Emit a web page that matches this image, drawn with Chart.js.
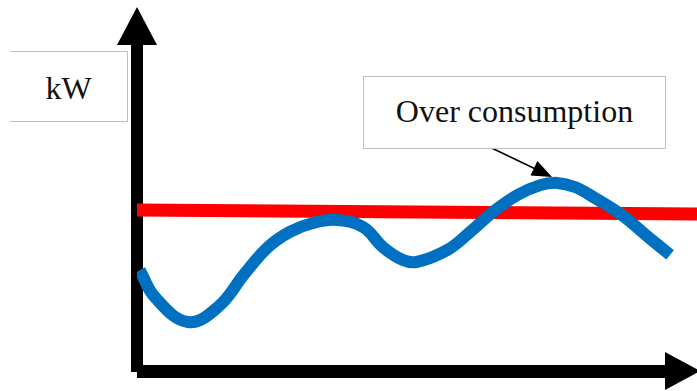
<!DOCTYPE html>
<html>
<head>
<meta charset="utf-8">
<script src="https://cdn.jsdelivr.net/npm/chart.js@4.4.1/dist/chart.umd.min.js"></script>
<style>
  html, body { margin: 0; padding: 0; background: #fff; }
  #wrap { position: relative; width: 697px; height: 391px; overflow: hidden; }
  canvas { position: absolute; left: 0; top: 0; }
  .note {
    position: absolute;
    box-sizing: border-box;
    display: flex;
    align-items: center;
    justify-content: center;
    font-family: 'Liberation Serif', 'Times New Roman', serif;
    font-size: 32px;
    color: #111;
    background: #fff;
    border: 1px solid #bfbfbf;
  }
  #unit { left: 10px; top: 51px; width: 118px; height: 71px; border-left: none; padding-top: 4px; }
  #over { left: 363px; top: 76px; width: 303px; height: 73px; padding-bottom: 2px; }
</style>
</head>
<body>
<div id="wrap">
  <canvas id="load" width="697" height="391"></canvas>
  <div class="note" id="unit">kW</div>
  <div class="note" id="over">Over consumption</div>
</div>
<script>
// time axis (0..100) and load in kW (0..100), arbitrary units
const timeSteps = [0.5, 3.2, 9.1, 14.5, 19.3, 23.4, 27.3, 31.4, 35.7, 40.4, 43.9, 47.5, 50.0,
  55.4, 59.5, 63.6, 67.9, 72.0, 75.0, 78.2, 81.8, 86.6, 91.3, 95.2];
const consumption = [27.2, 19.9, 13.2, 17.3, 26.4, 33.4, 37.5, 39.9, 40.7, 38.8, 33.4, 29.9, 29.4,
  32.6, 37.5, 42.9, 47.4, 50.1, 50.7, 49.6, 46.6, 42.0, 36.1, 31.3];
const limitTimes = [0, 100];
const limitKw = [43.4, 42.3];

const loadPoints = timeSteps.map((t, i) => ({ x: t, y: consumption[i] }));
const limitPoints = limitTimes.map((t, i) => ({ x: t, y: limitKw[i] }));

// thick arrowed axes drawn under the series
const arrowAxes = {
  id: 'arrowAxes',
  beforeDatasetsDraw(chart) {
    const { ctx, chartArea } = chart;
    const x0 = chartArea.left, y0 = chartArea.bottom;
    ctx.save();
    ctx.fillStyle = '#000';
    // vertical axis
    ctx.fillRect(x0 - 6, 44, 12, y0 + 1 - 44);
    ctx.beginPath();
    ctx.moveTo(x0 - 20, 45);
    ctx.lineTo(x0 + 20, 45);
    ctx.lineTo(x0, 7);
    ctx.closePath();
    ctx.fill();
    // horizontal axis
    ctx.fillRect(x0, y0 - 6, 665 - x0, 13);
    ctx.beginPath();
    ctx.moveTo(665, y0 - 19);
    ctx.lineTo(665, y0 + 19);
    ctx.lineTo(700, y0);
    ctx.closePath();
    ctx.fill();
    ctx.restore();
  }
};

// pointer from the note box to the highest load point
const peakPointer = {
  id: 'peakPointer',
  afterDatasetsDraw(chart) {
    const { ctx, scales } = chart;
    let k = 0;
    consumption.forEach((v, i) => { if (v > consumption[k]) k = i; });
    const tx = scales.x.getPixelForValue(timeSteps[k]) - 5;
    const ty = scales.y.getPixelForValue(consumption[k]) - 6;
    const sx = 475, sy = 140;
    const ang = Math.atan2(ty - sy, tx - sx);
    ctx.save();
    ctx.strokeStyle = '#000';
    ctx.lineWidth = 1.5;
    ctx.beginPath();
    ctx.moveTo(sx, sy);
    ctx.lineTo(tx - 16 * Math.cos(ang), ty - 16 * Math.sin(ang));
    ctx.stroke();
    ctx.fillStyle = '#000';
    ctx.beginPath();
    ctx.moveTo(tx, ty);
    ctx.lineTo(tx - 20 * Math.cos(ang) + 8 * Math.sin(ang), ty - 20 * Math.sin(ang) - 8 * Math.cos(ang));
    ctx.lineTo(tx - 20 * Math.cos(ang) - 8 * Math.sin(ang), ty - 20 * Math.sin(ang) + 8 * Math.cos(ang));
    ctx.closePath();
    ctx.fill();
    ctx.restore();
  }
};

new Chart(document.getElementById('load'), {
  type: 'scatter',
  data: {
    datasets: [
      {
        data: limitPoints,
        showLine: true,
        borderColor: '#ff0000',
        borderWidth: 13,
        pointRadius: 0,
        order: 2
      },
      {
        data: loadPoints,
        showLine: true,
        borderColor: '#0070c0',
        borderWidth: 12,
        pointRadius: 0,
        tension: 0.4,
        order: 1
      }
    ]
  },
  options: {
    responsive: false,
    animation: false,
    devicePixelRatio: 1,
    layout: { padding: { left: 137, right: 0, top: 0, bottom: 20 } },
    plugins: { legend: { display: false }, tooltip: { enabled: false } },
    scales: {
      x: { type: 'linear', min: 0, max: 100, display: false },
      y: { min: 0, max: 100, display: false }
    }
  },
  plugins: [arrowAxes, peakPointer]
});
</script>
</body>
</html>
